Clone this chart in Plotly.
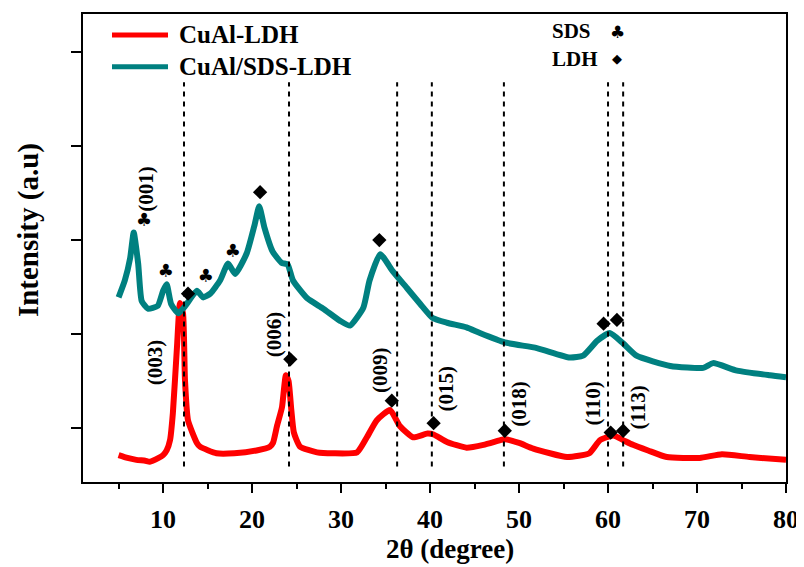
import plotly.graph_objects as go

# ---------------- data ----------------
red_x = [5.0, 6.0, 7.0, 8.0, 8.5, 9.5, 10.0, 10.4, 10.78, 11.1, 11.56, 11.9, 12.24, 12.46, 12.8,
         13.8, 14.15, 16.0, 18.0, 20.5, 22.0, 22.35, 22.8, 23.36, 23.8, 24.1, 24.4, 24.7, 25.4,
         27.3, 29.1, 31.8, 32.9, 34.0, 35.5, 36.6, 38.1, 39.7, 40.4, 41.9, 44.1, 46.0,
         47.9, 48.4, 50.0, 51.6, 55.4, 57.9, 59.1, 60.6, 61.7, 62.8, 64.5, 66.6, 70.3,
         72.8, 75.9, 80.0]
red_y = [0.71, 0.68, 0.66, 0.65, 0.64, 0.68, 0.71, 0.76, 0.87, 1.16, 1.86, 2.33, 2.22, 1.51, 1.08,
         0.84, 0.80, 0.73, 0.73, 0.76, 0.80, 0.84, 1.02, 1.22, 1.56, 1.50, 1.20, 0.95, 0.80,
         0.74, 0.73, 0.74, 0.90, 1.08, 1.19, 1.02, 0.90, 0.94, 0.93, 0.85, 0.79, 0.82,
         0.87, 0.88, 0.84, 0.78, 0.69, 0.73, 0.87, 0.92, 0.87, 0.82, 0.76, 0.69, 0.68,
         0.72, 0.69, 0.66]

teal_x = [5.0, 5.7, 6.3, 6.7, 7.2, 7.6, 8.3, 9.4, 10.0, 10.4, 10.9, 11.7, 12.5, 13.8, 14.5,
          15.3, 16.4, 17.3, 18.1, 19.4, 20.3, 20.8, 21.4, 22.3, 23.3, 24.0, 24.6, 26.2,
          28.0, 29.9, 31.0, 32.5, 33.2, 34.4, 35.8, 37.4, 38.9, 40.3, 41.9, 44.1, 45.6,
          48.4, 52.0, 55.7, 57.2, 58.8, 60.2, 61.7, 63.2, 67.0, 70.7, 71.8, 74.5, 78.2, 80.0]
teal_y = [2.39, 2.57, 2.81, 3.08, 2.75, 2.35, 2.27, 2.30, 2.46, 2.53, 2.32, 2.22, 2.30, 2.46, 2.39,
          2.43, 2.57, 2.75, 2.64, 2.86, 3.17, 3.36, 3.13, 2.88, 2.76, 2.74, 2.57, 2.38,
          2.27, 2.14, 2.09, 2.28, 2.57, 2.85, 2.67, 2.49, 2.32, 2.17, 2.12, 2.07, 2.01,
          1.91, 1.85, 1.75, 1.77, 1.93, 2.01, 1.90, 1.77, 1.66, 1.64, 1.69, 1.61, 1.56, 1.54]

ref_lines_x = [12.35, 24.15, 36.3, 40.2, 48.3, 60.0, 61.7]

ldh_diamond_x = [12.8, 20.9, 34.3, 59.5, 61.0, 24.3, 35.7, 40.4, 48.4, 60.3, 61.7]
ldh_diamond_y = [2.43, 3.51, 3.00, 2.11, 2.15, 1.73, 1.29, 1.05, 0.97, 0.95, 0.97]

sds_club_x = [7.85, 10.3, 14.8, 17.85]
sds_club_y = [3.20, 2.66, 2.60, 2.87]

hkl_labels = ["(001)", "(003)", "(006)", "(009)", "(015)", "(018)", "(110)", "(113)"]
hkl_x = [8.1, 9.1, 22.5, 34.3, 41.9, 49.9, 58.2, 63.4]
hkl_y = [3.55, 1.70, 2.00, 1.62, 1.42, 1.26, 1.26, 1.22]

x_ticks = [10, 20, 30, 40, 50, 60, 70, 80]
x_minor = [5, 15, 25, 35, 45, 55, 65, 75]
y_ticks = [1, 2, 3, 4, 5]

series_names = ["CuAl-LDH", "CuAl/SDS-LDH"]
RED = "#ff0000"
TEAL = "#008080"
SERIF = "Liberation Serif"

# ---------------- figure ----------------
fig = go.Figure()
fig.add_trace(go.Scatter(x=red_x, y=red_y, mode="lines", name=series_names[0],
                         line=dict(color=RED, width=6, shape="spline", smoothing=0.5),
                         showlegend=False))
fig.add_trace(go.Scatter(x=teal_x, y=teal_y, mode="lines", name=series_names[1],
                         line=dict(color=TEAL, width=6, shape="spline", smoothing=0.5),
                         showlegend=False))

fig.add_trace(go.Scatter(x=ldh_diamond_x, y=ldh_diamond_y, mode="markers",
                         marker=dict(symbol="diamond", size=11, color="black"),
                         showlegend=False))
fig.add_trace(go.Scatter(x=sds_club_x, y=sds_club_y, mode="text", text=["♣"] * len(sds_club_x),
                         textfont=dict(family="DejaVu Sans", size=18, color="black"),
                         showlegend=False))

shapes = []
for xv in ref_lines_x:
    shapes.append(dict(type="line", xref="x", yref="y", x0=xv, x1=xv, y0=0.59, y1=4.68,
                       line=dict(color="black", width=2, dash="5px,5px"), layer="above"))

# page pixel -> paper coordinates (plot area: x 83..786, y 12..482 on the page)
def px2paper_x(px):
    return (px - 83) / 703.0

def px2paper_y(py):
    return (482 - py) / 470.0

for col, py in [(RED, 33), (TEAL, 65)]:
    shapes.append(dict(type="line", xref="paper", yref="paper",
                       x0=px2paper_x(112), x1=px2paper_x(168), y0=px2paper_y(py), y1=px2paper_y(py),
                       line=dict(color=col, width=5)))

annotations = []
for name, py in zip(series_names, [33, 65]):
    annotations.append(dict(xref="paper", yref="paper", x=px2paper_x(177), y=px2paper_y(py),
                            text=f"<b>{name}</b>", showarrow=False, xanchor="left", yanchor="middle",
                            font=dict(family=SERIF, size=25, color="black")))

annotations.append(dict(xref="paper", yref="paper", x=px2paper_x(550), y=px2paper_y(29),
                        text="<b>SDS</b>", showarrow=False, xanchor="left", yanchor="middle",
                        font=dict(family=SERIF, size=21, color="black")))
annotations.append(dict(xref="paper", yref="paper", x=px2paper_x(550), y=px2paper_y(57),
                        text="<b>LDH</b>", showarrow=False, xanchor="left", yanchor="middle",
                        font=dict(family=SERIF, size=21, color="black")))
annotations.append(dict(xref="paper", yref="paper", x=px2paper_x(617), y=px2paper_y(30),
                        text="♣", showarrow=False, xanchor="center", yanchor="middle",
                        font=dict(family="DejaVu Sans", size=17, color="black")))
annotations.append(dict(xref="paper", yref="paper", x=px2paper_x(617), y=px2paper_y(57),
                        text="◆", showarrow=False, xanchor="center", yanchor="middle",
                        font=dict(family="DejaVu Sans", size=13, color="black")))

for lab, xv, yv in zip(hkl_labels, hkl_x, hkl_y):
    annotations.append(dict(xref="x", yref="y", x=xv, y=yv, text=f"<b>{lab}</b>",
                            textangle=-90, showarrow=False, xanchor="center", yanchor="middle",
                            font=dict(family=SERIF, size=21, color="black")))

# axis titles
annotations.append(dict(xref="paper", yref="paper", x=px2paper_x(450), y=px2paper_y(549),
                        text="<b>2θ (degree)</b>", showarrow=False, xanchor="center", yanchor="middle",
                        font=dict(family=SERIF, size=27, color="black")))
annotations.append(dict(xref="paper", yref="paper", x=px2paper_x(28), y=px2paper_y(229),
                        text="<b>Intensity (a.u)</b>", textangle=-90, showarrow=False,
                        xanchor="center", yanchor="middle",
                        font=dict(family=SERIF, size=29, color="black")))

# the page body adds an 8px offset, so the figure is 8px smaller and margins compensate
fig.update_layout(
    width=796, height=559, autosize=False,
    margin=dict(l=75, r=18, t=4, b=85),
    paper_bgcolor="white", plot_bgcolor="white",
    showlegend=False,
    shapes=shapes, annotations=annotations,
    xaxis=dict(range=[1, 80], tickvals=x_ticks, ticktext=[str(v) for v in x_ticks],
               ticks="outside", ticklen=9, tickwidth=2, tickcolor="black",
               showline=True, linewidth=2, linecolor="black", mirror=True,
               showgrid=False, zeroline=False, ticklabelstandoff=4,
               tickfont=dict(family=SERIF, size=26, color="black", weight="bold"),
               minor=dict(tickvals=x_minor, ticks="outside", ticklen=5, tickwidth=2,
                          tickcolor="black", showgrid=False)),
    yaxis=dict(range=[0.424, 5.408], tickvals=y_ticks, showticklabels=False,
               ticks="outside", ticklen=10, tickwidth=2, tickcolor="black",
               showline=True, linewidth=2, linecolor="black", mirror=True,
               showgrid=False, zeroline=False),
)

fig.write_html("out.html")
